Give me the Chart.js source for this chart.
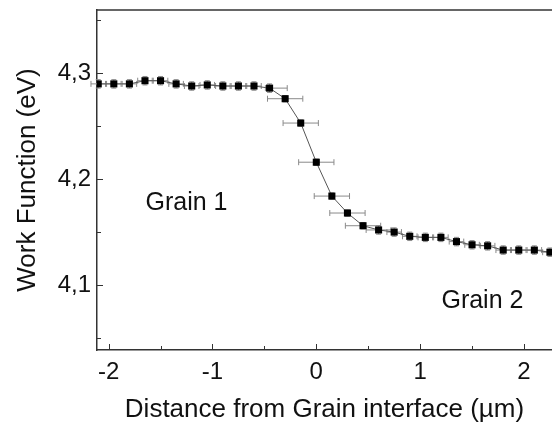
<!DOCTYPE html>
<html>
<head>
<meta charset="utf-8">
<title>Work function across grain interface</title>
<script src="https://cdn.jsdelivr.net/npm/chart.js@4.4.1/dist/chart.umd.min.js"></script>
<style>
    html, body { margin: 0; padding: 0; background: #fff; overflow: hidden; }
    #wrap { position: relative; width: 552px; height: 425px; }
</style>
</head>
<body>
<div id="wrap"><canvas id="wfChart"></canvas></div>
<script>
// 数据
const distance = [-2.1, -1.95, -1.8, -1.65, -1.5, -1.35, -1.2, -1.05, -0.9, -0.75, -0.6, -0.45, -0.3,
    -0.15, 0, 0.15, 0.3, 0.45, 0.6, 0.75, 0.9, 1.05, 1.2, 1.35, 1.5, 1.65, 1.8, 1.95, 2.1, 2.25];
const workFunction = [4.290, 4.290, 4.290, 4.293, 4.293, 4.290, 4.288, 4.289, 4.288, 4.288, 4.288, 4.286, 4.276,
    4.253, 4.216, 4.184, 4.168, 4.156, 4.152, 4.150, 4.146, 4.145, 4.145, 4.141, 4.138, 4.137, 4.133, 4.133, 4.133, 4.131];
const yErr = [0.004, 0.004, 0.004, 0.004, 0.004, 0.004, 0.004, 0.004, 0.004, 0.004, 0.004, 0.004, 0.003,
    0.003, 0.003, 0.003, 0.003, 0.003, 0.004, 0.004, 0.004, 0.004, 0.004, 0.004, 0.004, 0.004, 0.004, 0.004, 0.004, 0.004];
const xErrLo = [0.07, 0.07, 0.07, 0.07, 0.07, 0.07, 0.07, 0.07, 0.07, 0.07, 0.07, 0.04, 0.17,
    0.17, 0.17, 0.17, 0.17, 0.17, 0.12, 0.07, 0.07, 0.07, 0.07, 0.07, 0.07, 0.07, 0.07, 0.07, 0.07, 0.07];
const xErrHi = [0.07, 0.07, 0.07, 0.07, 0.07, 0.07, 0.07, 0.07, 0.07, 0.07, 0.07, 0.17, 0.17,
    0.17, 0.17, 0.17, 0.17, 0.17, 0.12, 0.07, 0.07, 0.07, 0.07, 0.07, 0.07, 0.07, 0.07, 0.07, 0.07, 0.07];

const xTicks = [-2, -1, 0, 1, 2];
const xMinorTicks = [-1.5, -0.5, 0.5, 1.5];
const yTicks = [4.1, 4.2, 4.3];
const yMinorTicks = [4.05, 4.15, 4.25, 4.35];

const grainLabels = ['Grain 1', 'Grain 2'];
const grainLabelPos = [[-1.25, 4.177], [1.6, 4.085]];

const FONT = '"Liberation Sans", Arial, sans-serif';
const INK = '#111';

// 误差棒
const errorBars = {
    id: 'errorBars',
    beforeDatasetsDraw(chart) {
        const { ctx, scales: { x, y } } = chart;
        ctx.save();
        ctx.strokeStyle = '#8a8a8a';
        ctx.lineWidth = 1;
        distance.forEach((d, i) => {
            const px = x.getPixelForValue(d);
            const py = y.getPixelForValue(workFunction[i]);
            const x0 = x.getPixelForValue(d - xErrLo[i]);
            const x1 = x.getPixelForValue(d + xErrHi[i]);
            const y0 = y.getPixelForValue(workFunction[i] - yErr[i]);
            const y1 = y.getPixelForValue(workFunction[i] + yErr[i]);
            ctx.beginPath();
            ctx.moveTo(x0, py); ctx.lineTo(x1, py);
            ctx.moveTo(x0, py - 3); ctx.lineTo(x0, py + 3);
            ctx.moveTo(x1, py - 3); ctx.lineTo(x1, py + 3);
            ctx.moveTo(px, y0); ctx.lineTo(px, y1);
            ctx.moveTo(px - 2.5, y0); ctx.lineTo(px + 2.5, y0);
            ctx.moveTo(px - 2.5, y1); ctx.lineTo(px + 2.5, y1);
            ctx.stroke();
        });
        ctx.restore();
    }
};

// 内向刻度、上边框和文字标注
const frame = {
    id: 'frame',
    afterDraw(chart) {
        const { ctx, chartArea: area, scales: { x, y } } = chart;
        ctx.save();
        ctx.strokeStyle = '#333';
        ctx.lineWidth = 1.5;
        ctx.beginPath();
        ctx.moveTo(area.left, area.top); ctx.lineTo(chart.width, area.top);
        ctx.stroke();
        ctx.lineWidth = 1;
        ctx.beginPath();
        xTicks.forEach(v => { const p = Math.round(x.getPixelForValue(v)) + 0.5; ctx.moveTo(p, area.bottom); ctx.lineTo(p, area.bottom - 6); });
        xMinorTicks.forEach(v => { const p = Math.round(x.getPixelForValue(v)) + 0.5; ctx.moveTo(p, area.bottom); ctx.lineTo(p, area.bottom - 4); });
        yTicks.forEach(v => { const p = Math.round(y.getPixelForValue(v)) + 0.5; ctx.moveTo(area.left, p); ctx.lineTo(area.left + 6, p); });
        yMinorTicks.forEach(v => { const p = Math.round(y.getPixelForValue(v)) + 0.5; ctx.moveTo(area.left, p); ctx.lineTo(area.left + 4, p); });
        ctx.stroke();

        ctx.fillStyle = INK;
        ctx.font = '25px ' + FONT;
        ctx.textAlign = 'center';
        ctx.textBaseline = 'middle';
        grainLabels.forEach((t, i) => {
            ctx.fillText(t, x.getPixelForValue(grainLabelPos[i][0]), y.getPixelForValue(grainLabelPos[i][1]));
        });
        ctx.restore();
    }
};

new Chart(document.getElementById('wfChart'), {
    type: 'scatter',
    data: {
        datasets: [{
            data: distance.map((d, i) => ({ x: d, y: workFunction[i] })),
            showLine: true,
            borderColor: '#555',
            borderWidth: 1,
            pointStyle: 'rect',
            pointRadius: 5,
            pointBackgroundColor: '#000',
            pointBorderColor: '#000',
            pointBorderWidth: 0
        }]
    },
    plugins: [errorBars, frame],
    options: {
        responsive: true,
        maintainAspectRatio: false,
        animation: false,
        layout: { autoPadding: false, padding: { top: 10, right: 0, left: 0, bottom: 0 } },
        plugins: {
            legend: { display: false },
            tooltip: { enabled: false }
        },
        scales: {
            x: {
                type: 'linear',
                min: -2.112,
                max: 2.27,
                afterBuildTicks: s => { s.ticks = xTicks.map(v => ({ value: v })); },
                afterFit: s => { s.height = 75; s.paddingLeft = 0; s.paddingRight = 0; },
                grid: { display: false, drawTicks: false },
                border: { display: true, color: '#333', width: 1.5 },
                ticks: {
                    color: INK,
                    padding: 8,
                    font: { family: FONT, size: 24 },
                    callback: v => String(v)
                },
                title: {
                    display: true,
                    text: 'Distance from Grain interface (µm)',
                    color: INK,
                    font: { family: FONT, size: 26 },
                    padding: { top: 6, bottom: 0 }
                }
            },
            y: {
                min: 4.0386,
                max: 4.3598,
                afterBuildTicks: s => { s.ticks = yTicks.map(v => ({ value: v })); },
                afterFit: s => { s.width = 97; s.paddingTop = 0; s.paddingBottom = 0; },
                grid: { display: false, drawTicks: false },
                border: { display: true, color: '#333', width: 1.5 },
                ticks: {
                    color: INK,
                    padding: 6,
                    font: { family: FONT, size: 24 },
                    callback: v => v.toFixed(1).replace('.', ',')
                },
                title: {
                    display: true,
                    text: 'Work Function (eV)',
                    color: INK,
                    font: { family: FONT, size: 26 },
                    padding: { top: 12, bottom: 0 }
                }
            }
        }
    }
});
</script>
</body>
</html>
